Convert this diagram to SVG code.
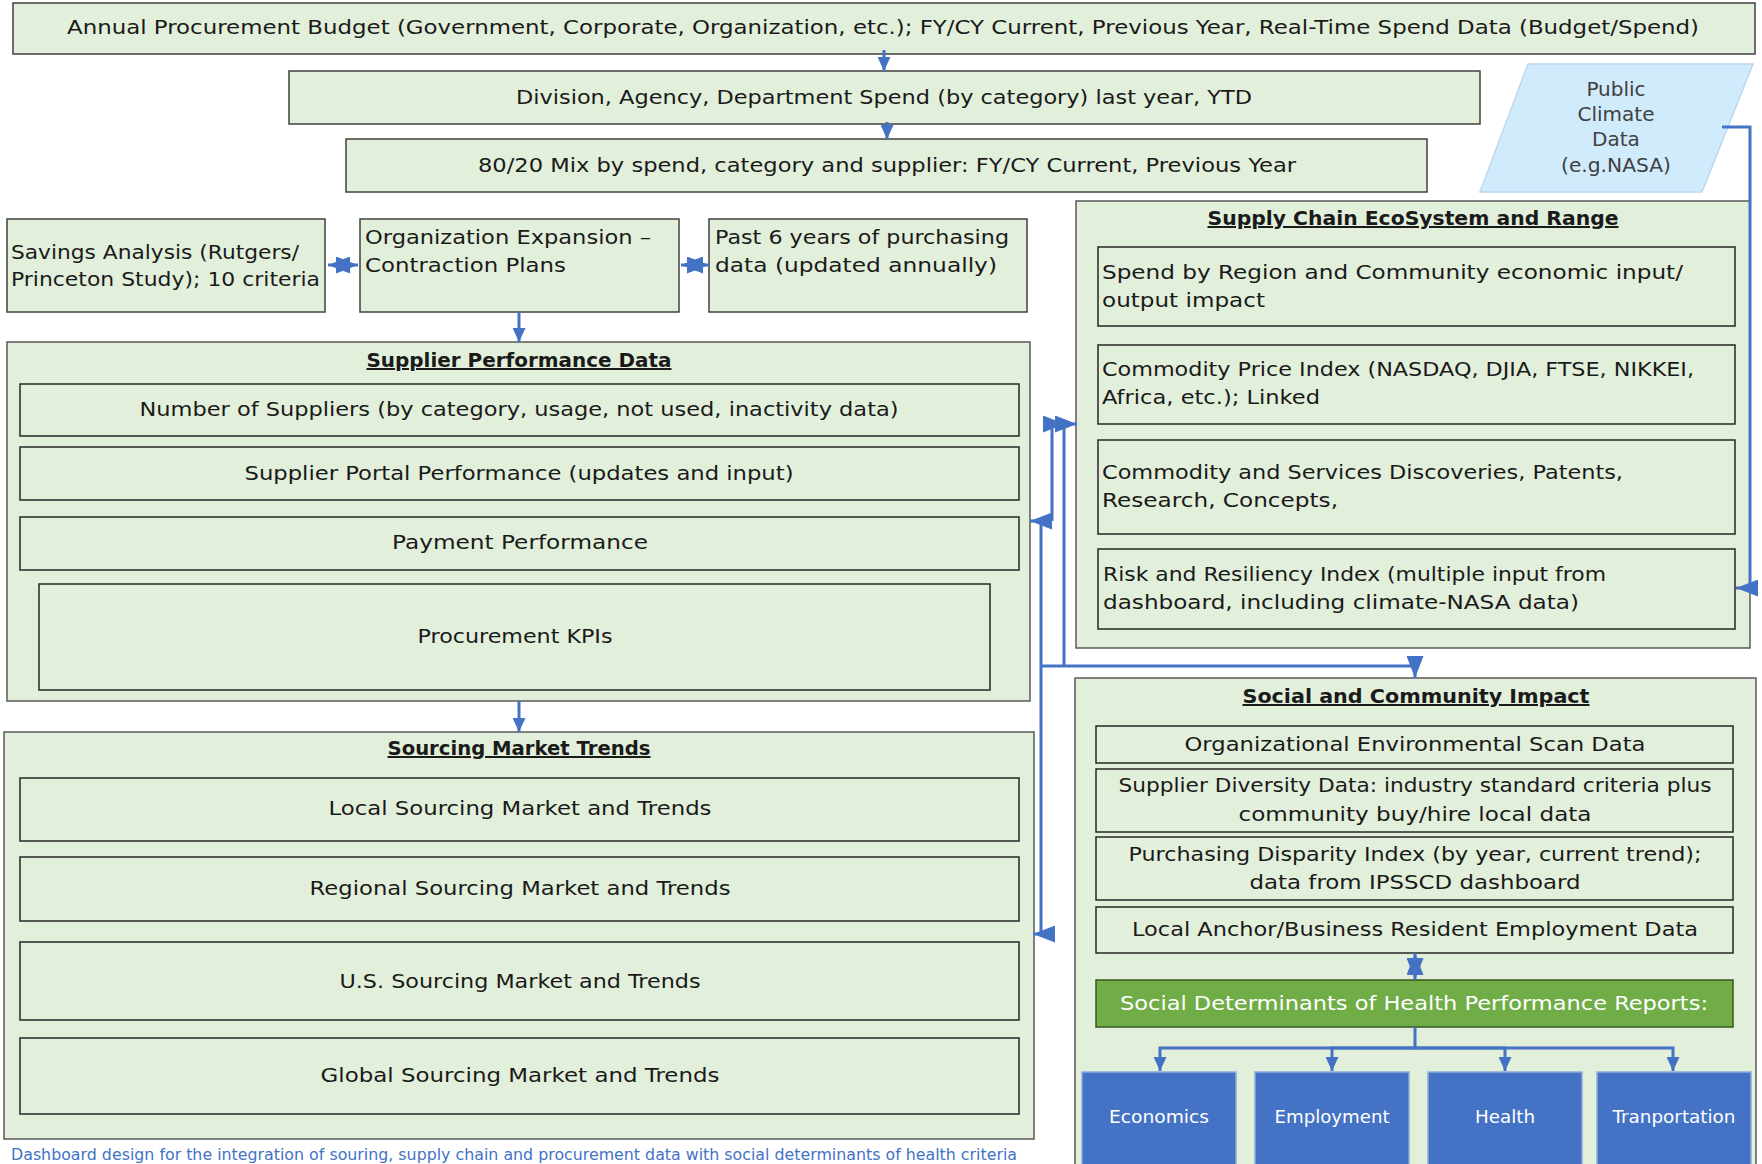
<svg xmlns="http://www.w3.org/2000/svg" width="1762" height="1164" viewBox="0 0 1762 1164">
<defs>
<style>
.bg{fill:#ffffff}
.box{fill:#E2EFDA;stroke:#404040;stroke-width:1.5}
.outer{fill:#E2EFDA;stroke:#595959;stroke-width:1.5}
.inner{fill:#E2EFDA;stroke:#262626;stroke-width:1.5}
.t{font-family:"DejaVu Sans","Liberation Sans",sans-serif;font-size:20px;fill:#1a1a1a}
.c{text-anchor:middle}
.h{font-weight:bold;text-decoration:underline}
.w{fill:#ffffff}
.g{fill:#404040}
.conn{fill:none;stroke:#4472C4;stroke-width:3}
</style>
<marker id="arrS" viewBox="0 0 10 10" refX="10" refY="5" markerUnits="userSpaceOnUse" markerWidth="14" markerHeight="13" orient="auto-start-reverse" preserveAspectRatio="none"><path d="M0,0 L10,5 L0,10 z" fill="#4472C4"/></marker>
<marker id="arrL" viewBox="0 0 10 10" refX="10" refY="5" markerUnits="userSpaceOnUse" markerWidth="22" markerHeight="17" orient="auto-start-reverse" preserveAspectRatio="none"><path d="M0,0 L10,5 L0,10 z" fill="#4472C4"/></marker>
</defs>
<rect class="bg" x="0" y="0" width="1762" height="1164"/>

<g id="budget"><rect class="box" x="13" y="3" width="1742" height="51"/><text class="t c" x="883" y="34" textLength="1632" lengthAdjust="spacingAndGlyphs">Annual Procurement Budget (Government, Corporate, Organization, etc.); FY/CY Current, Previous Year, Real-Time Spend Data (Budget/Spend)</text></g>
<g id="division"><rect class="box" x="289" y="71" width="1191" height="53"/><text class="t c" x="884" y="104" textLength="736" lengthAdjust="spacingAndGlyphs">Division, Agency, Department Spend (by category) last year, YTD</text></g>
<g id="mix"><rect class="box" x="346" y="139" width="1081" height="53"/><text class="t c" x="887" y="172" textLength="818" lengthAdjust="spacingAndGlyphs">80/20 Mix by spend, category and supplier: FY/CY Current, Previous Year</text></g>
<g id="climate"><polygon points="1528,64 1753,64 1702,192 1480,192" fill="#D0EBFB" stroke="#BDD7EE" stroke-width="1.5"/>
<text class="t c g" x="1616" y="96">Public</text>
<text class="t c g" x="1616" y="121">Climate</text>
<text class="t c g" x="1616" y="146">Data</text>
<text class="t c g" x="1616" y="172" textLength="110" lengthAdjust="spacingAndGlyphs">(e.g.NASA)</text></g>

<g id="savings"><rect class="box" x="7" y="219" width="318" height="93"/>
<text class="t" x="11" y="259" textLength="288" lengthAdjust="spacingAndGlyphs">Savings Analysis (Rutgers/</text>
<text class="t" x="11" y="286" textLength="309" lengthAdjust="spacingAndGlyphs">Princeton Study); 10 criteria</text></g>
<g id="expansion"><rect class="box" x="360" y="219" width="319" height="93"/>
<text class="t" x="365" y="244" textLength="286" lengthAdjust="spacingAndGlyphs">Organization Expansion –</text>
<text class="t" x="365" y="272" textLength="201" lengthAdjust="spacingAndGlyphs">Contraction Plans</text></g>
<g id="past"><rect class="box" x="709" y="219" width="318" height="93"/>
<text class="t" x="715" y="244" textLength="294" lengthAdjust="spacingAndGlyphs">Past 6 years of purchasing</text>
<text class="t" x="715" y="272" textLength="282" lengthAdjust="spacingAndGlyphs">data (updated annually)</text></g>

<g id="supplier-performance"><rect class="outer" x="7" y="342" width="1023" height="359"/>
<text class="t c h" x="519" y="367" textLength="305" lengthAdjust="spacingAndGlyphs">Supplier Performance Data</text>
<rect class="inner" x="20" y="384" width="999" height="52"/><text class="t c" x="519" y="416" textLength="759" lengthAdjust="spacingAndGlyphs">Number of Suppliers (by category, usage, not used, inactivity data)</text>
<rect class="inner" x="20" y="447" width="999" height="53"/><text class="t c" x="519" y="480" textLength="549" lengthAdjust="spacingAndGlyphs">Supplier Portal Performance (updates and input)</text>
<rect class="inner" x="20" y="517" width="999" height="53"/><text class="t c" x="520" y="549" textLength="256" lengthAdjust="spacingAndGlyphs">Payment Performance</text>
<rect class="inner" x="39" y="584" width="951" height="106"/><text class="t c" x="515" y="643" textLength="195" lengthAdjust="spacingAndGlyphs">Procurement KPIs</text></g>

<g id="sourcing"><rect class="outer" x="4" y="732" width="1030" height="407"/>
<text class="t c h" x="519" y="755" textLength="263" lengthAdjust="spacingAndGlyphs">Sourcing Market Trends</text>
<rect class="inner" x="20" y="778" width="999" height="63"/><text class="t c" x="520" y="815" textLength="383" lengthAdjust="spacingAndGlyphs">Local Sourcing Market and Trends</text>
<rect class="inner" x="20" y="857" width="999" height="64"/><text class="t c" x="520" y="895" textLength="421" lengthAdjust="spacingAndGlyphs">Regional Sourcing Market and Trends</text>
<rect class="inner" x="20" y="942" width="999" height="78"/><text class="t c" x="520" y="988" textLength="361" lengthAdjust="spacingAndGlyphs">U.S. Sourcing Market and Trends</text>
<rect class="inner" x="20" y="1038" width="999" height="76"/><text class="t c" x="520" y="1082" textLength="399" lengthAdjust="spacingAndGlyphs">Global Sourcing Market and Trends</text></g>

<g id="supply-chain"><rect class="outer" x="1076" y="201" width="674" height="447"/>
<text class="t c h" x="1413" y="225" textLength="411" lengthAdjust="spacingAndGlyphs">Supply Chain EcoSystem and Range</text>
<rect class="inner" x="1098" y="247" width="637" height="79"/>
<text class="t" x="1102" y="279" textLength="581" lengthAdjust="spacingAndGlyphs">Spend by Region and Community economic input/</text>
<text class="t" x="1102" y="307" textLength="163" lengthAdjust="spacingAndGlyphs">output impact</text>
<rect class="inner" x="1098" y="345" width="637" height="79"/>
<text class="t" x="1102" y="376" textLength="592" lengthAdjust="spacingAndGlyphs">Commodity Price Index (NASDAQ, DJIA, FTSE, NIKKEI,</text>
<text class="t" x="1102" y="404" textLength="218" lengthAdjust="spacingAndGlyphs">Africa, etc.); Linked</text>
<rect class="inner" x="1098" y="440" width="637" height="94"/>
<text class="t" x="1102" y="479" textLength="521" lengthAdjust="spacingAndGlyphs">Commodity and Services Discoveries, Patents,</text>
<text class="t" x="1102" y="507" textLength="236" lengthAdjust="spacingAndGlyphs">Research, Concepts,</text>
<rect class="inner" x="1098" y="549" width="637" height="80"/>
<text class="t" x="1103" y="581" textLength="503" lengthAdjust="spacingAndGlyphs">Risk and Resiliency Index (multiple input from</text>
<text class="t" x="1103" y="609" textLength="476" lengthAdjust="spacingAndGlyphs">dashboard, including climate-NASA data)</text></g>

<g id="social"><rect class="outer" x="1075" y="678" width="681" height="500"/>
<text class="t c h" x="1416" y="703" textLength="347" lengthAdjust="spacingAndGlyphs">Social and Community Impact</text>
<rect class="inner" x="1096" y="726" width="637" height="37"/><text class="t c" x="1415" y="751" textLength="461" lengthAdjust="spacingAndGlyphs">Organizational Environmental Scan Data</text>
<rect class="inner" x="1096" y="769" width="637" height="63"/>
<text class="t c" x="1415" y="792" textLength="593" lengthAdjust="spacingAndGlyphs">Supplier Diversity Data: industry standard criteria plus</text>
<text class="t c" x="1415" y="821" textLength="353" lengthAdjust="spacingAndGlyphs">community buy/hire local data</text>
<rect class="inner" x="1096" y="837" width="637" height="63"/>
<text class="t c" x="1415" y="861" textLength="573" lengthAdjust="spacingAndGlyphs">Purchasing Disparity Index (by year, current trend);</text>
<text class="t c" x="1415" y="889" textLength="331" lengthAdjust="spacingAndGlyphs">data from IPSSCD dashboard</text>
<rect class="inner" x="1096" y="907" width="637" height="46"/><text class="t c" x="1415" y="936" textLength="566" lengthAdjust="spacingAndGlyphs">Local Anchor/Business Resident Employment Data</text></g>
<g id="sdoh"><rect x="1096" y="980" width="637" height="47" fill="#70AD47" stroke="#385723" stroke-width="1.5"/><text class="t c w" x="1414" y="1010" textLength="588" lengthAdjust="spacingAndGlyphs">Social Determinants of Health Performance Reports:</text></g>
<g id="economics"><rect x="1082" y="1072" width="154" height="100" fill="#4472C4" stroke="#8FAADC" stroke-width="1.5"/><text class="t c w" x="1159" y="1123" style="font-size:18px" textLength="100" lengthAdjust="spacingAndGlyphs">Economics</text></g>
<g id="employment"><rect x="1255" y="1072" width="154" height="100" fill="#4472C4" stroke="#8FAADC" stroke-width="1.5"/><text class="t c w" x="1332" y="1123" style="font-size:18px" textLength="115" lengthAdjust="spacingAndGlyphs">Employment</text></g>
<g id="health"><rect x="1428" y="1072" width="154" height="100" fill="#4472C4" stroke="#8FAADC" stroke-width="1.5"/><text class="t c w" x="1505" y="1123" style="font-size:18px" textLength="60" lengthAdjust="spacingAndGlyphs">Health</text></g>
<g id="transportation"><rect x="1597" y="1072" width="154" height="100" fill="#4472C4" stroke="#8FAADC" stroke-width="1.5"/><text class="t c w" x="1674" y="1123" style="font-size:18px" textLength="123" lengthAdjust="spacingAndGlyphs">Tranportation</text></g>

<g id="connectors">
<path class="conn" d="M884,50 V71" marker-end="url(#arrS)"/>
<path class="conn" d="M887,122 V139" marker-end="url(#arrS)"/>
<path class="conn" d="M519,312 V342" marker-end="url(#arrS)"/>
<path class="conn" d="M519,701 V732" marker-end="url(#arrS)"/>
<path class="conn" d="M328,265 H358" marker-start="url(#arrL)" marker-end="url(#arrL)"/>
<path class="conn" d="M681,265 H709" marker-start="url(#arrL)" marker-end="url(#arrL)"/>
<path class="conn" d="M1415,953 V980" marker-start="url(#arrL)" marker-end="url(#arrL)"/>
<path class="conn" d="M1722,127 H1750 V588 H1736" marker-end="url(#arrL)"/>
<path class="conn" d="M1064,666 V424 H1077" marker-end="url(#arrL)"/>
<path class="conn" d="M1052,521 V424 H1065" marker-end="url(#arrL)"/>
<path class="conn" d="M1041,934 V521 H1030" marker-end="url(#arrL)"/>
<path class="conn" d="M1041,934 H1033" marker-end="url(#arrL)"/>
<path class="conn" d="M1041,666 H1415 V678" marker-end="url(#arrL)"/>
<path class="conn" d="M1415,1027 V1048 H1160 V1071" marker-end="url(#arrS)"/>
<path class="conn" d="M1415,1048 H1332 V1071" marker-end="url(#arrS)"/>
<path class="conn" d="M1415,1048 H1505 V1071" marker-end="url(#arrS)"/>
<path class="conn" d="M1415,1048 H1673 V1071" marker-end="url(#arrS)"/>
</g>

<text class="t" x="11" y="1160" style="font-size:15px;fill:#4472C4" textLength="1006" lengthAdjust="spacingAndGlyphs">Dashboard design for the integration of souring, supply chain and procurement data with social determinants of health criteria</text>
</svg>
